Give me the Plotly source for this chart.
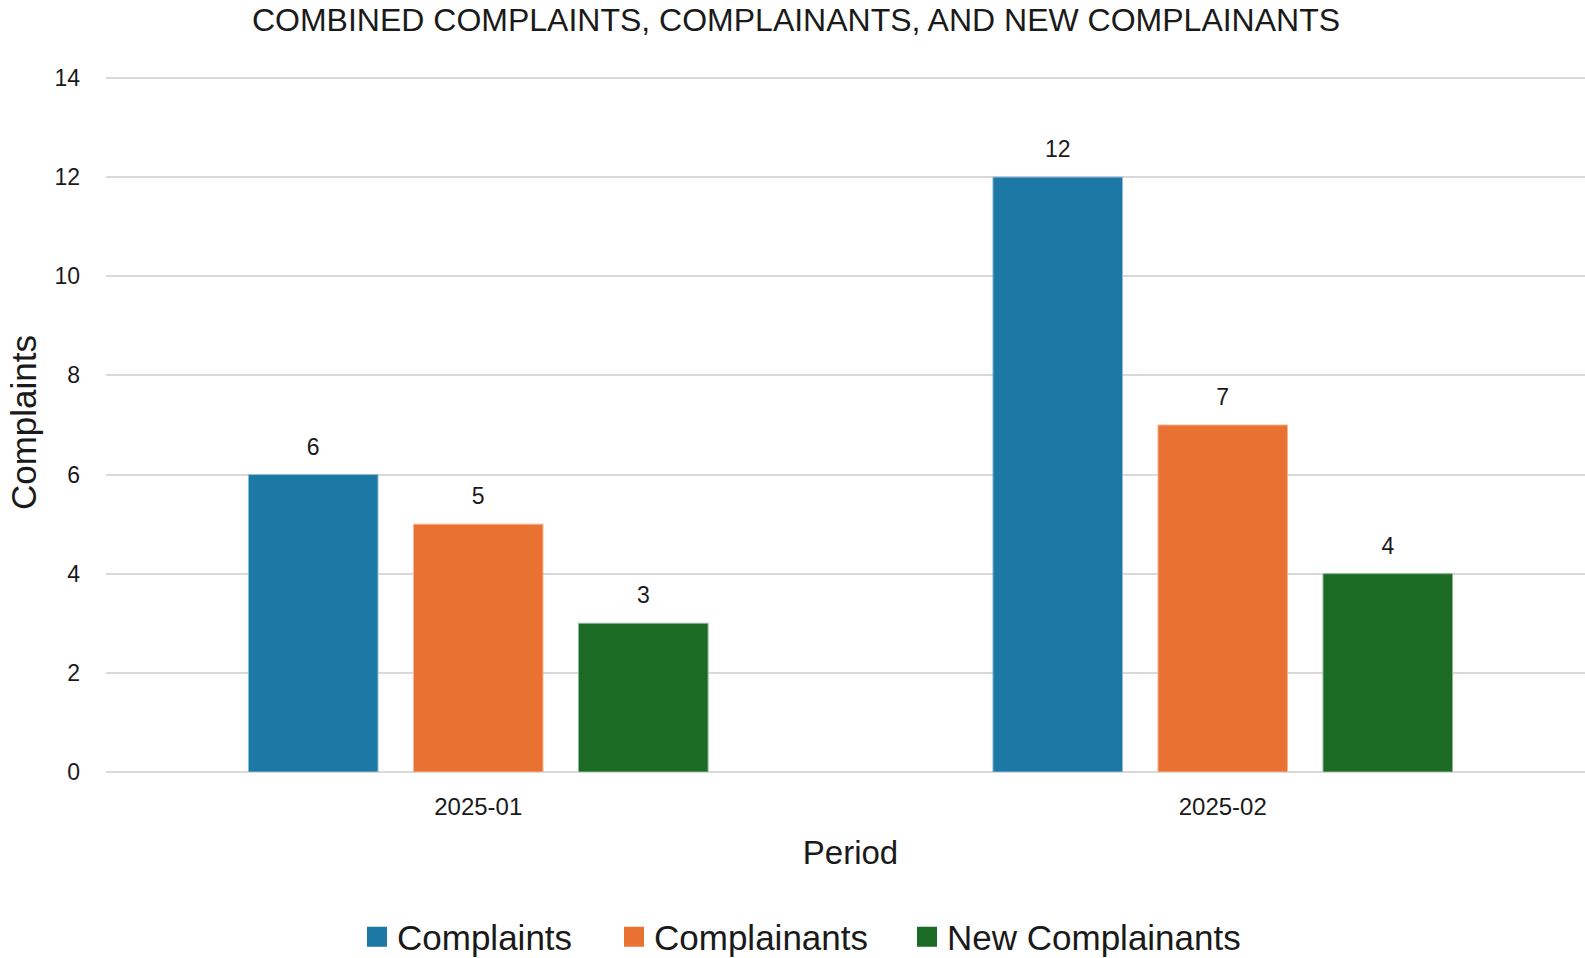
import plotly.graph_objects as go

periods = ["2025-01", "2025-02"]
complaints = [6, 12]
complainants = [5, 7]
new_complainants = [3, 4]

series_names = ["Complaints", "Complainants", "New Complainants"]
series_values = [complaints, complainants, new_complainants]
series_colors = ["#1c79a6", "#e97132", "#1b6b24"]
series_lines = ["#8dbcd3", "#f4b899", "#8db592"]
legend_ids = ["legend", "legend2", "legend3"]

FONT = "Liberation Sans"
TXT = "#1a1a1a"
W, H = 1595, 958
BARGAP = 0.335

fig = go.Figure()
for i, (name, vals, col, lc) in enumerate(zip(series_names, series_values, series_colors, series_lines)):
    fig.add_trace(go.Bar(
        x=periods, y=vals, name=name, showlegend=False,
        marker=dict(color=col, line=dict(color=lc, width=1)),
    ))
# value labels, grouped to sit above each bar
for i, (name, vals) in enumerate(zip(series_names, series_values)):
    fig.add_trace(go.Scatter(
        x=periods, y=vals, mode="markers+text", text=[str(v) for v in vals],
        textposition="top center", offsetgroup=str(i), alignmentgroup="a",
        marker=dict(size=21, opacity=0), showlegend=False, hoverinfo="skip",
        cliponaxis=False, textfont=dict(family=FONT, size=23, color=TXT),
    ))
for i, (name, col, lg) in enumerate(zip(series_names, series_colors, legend_ids)):
    fig.add_trace(go.Scatter(
        x=[None], y=[None], mode="markers", name=name, legend=lg,
        offsetgroup=str(i), alignmentgroup="a",
        marker=dict(symbol="square", size=16, color=col, line=dict(color=col, width=4)),
    ))

legend_left = [357, 614, 907]
legend_common = dict(orientation="h", xref="container", xanchor="left",
                     y=1 - 937 / H, yref="container", yanchor="middle",
                     font=dict(size=35, family=FONT, color=TXT), bgcolor="rgba(0,0,0,0)")

fig.update_layout(
    width=W, height=H,
    paper_bgcolor="white", plot_bgcolor="white",
    margin=dict(l=106, r=0, t=73, b=186, autoexpand=False),
    barmode="group", bargap=BARGAP, bargroupgap=0.215,
    scattermode="group", scattergap=BARGAP,
    font=dict(family=FONT, color=TXT),
    title=dict(text="COMBINED COMPLAINTS, COMPLAINANTS, AND NEW COMPLAINANTS",
               x=796 / W, xref="container", xanchor="center",
               y=1 - 20 / H, yref="container", yanchor="middle",
               font=dict(size=32, family=FONT, color=TXT)),
    legend=dict(x=legend_left[0] / W, **legend_common),
    legend2=dict(x=legend_left[1] / W, **legend_common),
    legend3=dict(x=legend_left[2] / W, **legend_common),
    xaxis=dict(
        type="category", showgrid=False, showline=False, zeroline=False,
        ticks="", ticklabelstandoff=18, automargin=False,
        tickfont=dict(size=24, family=FONT, color=TXT),
        title=dict(text="Period", font=dict(size=33, family=FONT, color=TXT), standoff=21),
    ),
    yaxis=dict(
        range=[0, 14.1], tickvals=[0, 2, 4, 6, 8, 10, 12, 14], showgrid=True,
        gridcolor="#d9d9d9", gridwidth=2,
        zeroline=True, zerolinecolor="#d9d9d9", zerolinewidth=2,
        showline=False, ticks="", ticklabelstandoff=25, automargin=False,
        tickfont=dict(size=23, family=FONT, color=TXT),
        title=dict(text="Complaints", font=dict(size=35, family=FONT, color=TXT), standoff=7),
    ),
)

fig.write_html("out.html", config={"displayModeBar": False},
               post_script="document.body.style.margin='0';document.body.style.overflow='hidden';document.documentElement.style.overflow='hidden';")
